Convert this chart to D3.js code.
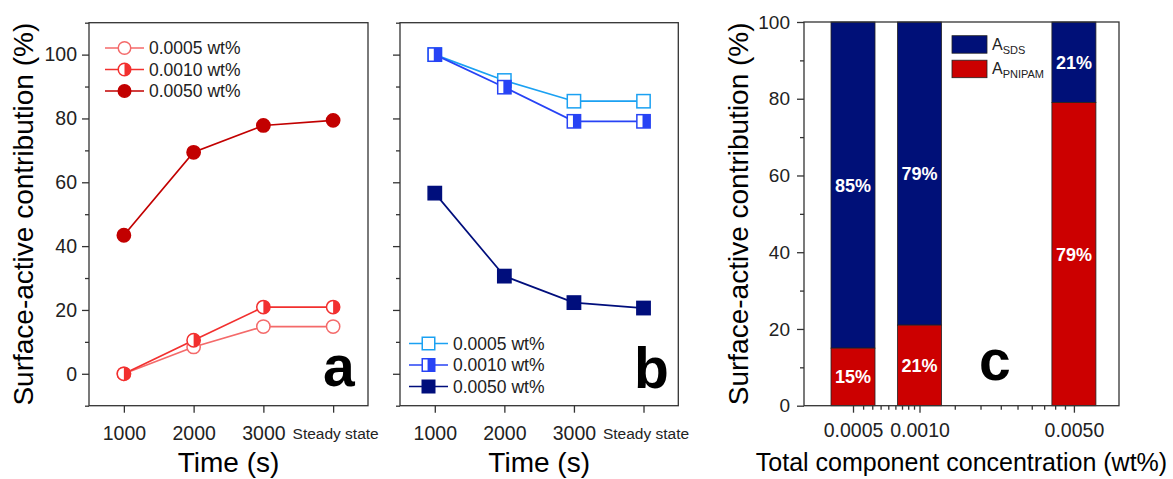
<!DOCTYPE html>
<html><head><meta charset="utf-8">
<script src="https://cdn.jsdelivr.net/npm/d3@7"></script>
<style>body{margin:0;background:#fff;} svg{display:block;} text{font-family:"Liberation Sans",Arial,sans-serif;}</style>
</head><body><svg id="c" width="1173" height="479"></svg>
<script>
// ---------- data ----------
const timeValues = [1000, 2000, 3000, 4000];
const timeLabels = ["1000", "2000", "3000", "Steady state"];
const seriesLabels = ["0.0005 wt%", "0.0010 wt%", "0.0050 wt%"];
const pnipam0005 = [0, 8.4, 14.8, 14.8];
const pnipam0010 = [0, 10.5, 20.9, 20.9];
const pnipam0050 = [43.4, 69.4, 77.8, 79.4];
const sds0005 = [100, 91.9, 85.4, 85.4];
const sds0010 = [100, 89.8, 79.1, 79.1];
const sds0050 = [56.6, 30.6, 22.3, 20.6];
const concentrations = [0.0005, 0.0010, 0.0050];
const concLabels = ["0.0005", "0.0010", "0.0050"];
const aPNIPAM = [15, 21, 79];
const aSDS = [85, 79, 21];
const yTicksLine = [0, 20, 40, 60, 80, 100];
const yTicksBar = [0, 20, 40, 60, 80, 100];

// ---------- setup ----------
const svg = d3.select("#c");
const FRAME = "#333";
const TXT = "#222";
const redCols = ["#F46A6A", "#F2302F", "#C20000"];
const blueCols = ["#1BA1F2", "#2743F5", "#000E7C"];
const barNavy = "#001078", barRed = "#CC0000";

const yLine = d3.scaleLinear().domain([-10, 110]).range([405.7, 22.7]);

function styleAxis(g, fs) {
  g.select(".domain").remove();
  g.selectAll(".tick line").attr("stroke", FRAME).attr("stroke-width", 1.3);
  g.selectAll(".tick text").attr("fill", TXT).style("font-size", fs + "px").style("font-family", '"Liberation Sans",Arial,sans-serif');
}

function linePanel(x0, x1, showYLabels, seriesData, cols, shape, letter, letterX, letterY, legendX, legendY0) {
  const x = d3.scaleLinear().domain([500, 4500]).range([x0, x1]);
  const g = svg.append("g");
  const ya = g.append("g").attr("transform", `translate(${x0},0)`)
    .call(d3.axisLeft(yLine).tickValues(yTicksLine).tickSize(7).tickPadding(5).tickFormat(showYLabels ? d3.format("d") : ""));
  styleAxis(ya, 19.5);
  const yminor = g.append("g").attr("transform", `translate(${x0},0)`)
    .call(d3.axisLeft(yLine).tickValues(d3.range(-10, 111, 20)).tickSize(4).tickFormat(""));
  styleAxis(yminor, 19);
  const xa = g.append("g").attr("transform", `translate(0,${yLine(-10)})`)
    .call(d3.axisBottom(x).tickValues(timeValues).tickSize(7).tickPadding(13).tickFormat((d, i) => timeLabels[i]));
  styleAxis(xa, 19.5);
  xa.selectAll(".tick text").filter((d, i) => i === 3).style("font-size", "15.5px").attr("dy", "0.85em").attr("dx", 2);
  g.append("rect").attr("x", x0).attr("y", yLine(110)).attr("width", x1 - x0).attr("height", yLine(-10) - yLine(110))
    .attr("fill", "none").attr("stroke", FRAME).attr("stroke-width", 1.3);
  g.append("text").attr("x", (x0 + x1) / 2).attr("y", 472).attr("text-anchor", "middle")
    .style("font-size", "28px").attr("fill", "#000").text("Time (s)");
  const line = d3.line().x((d, i) => x(timeValues[i])).y(d => yLine(d));
  seriesData.forEach((vals, si) => {
    g.append("path").attr("d", line(vals)).attr("fill", "none").attr("stroke", cols[si]).attr("stroke-width", 1.7);
  });
  seriesData.forEach((vals, si) => {
    vals.forEach((v, i) => drawMarker(g, x(timeValues[i]), yLine(v), shape, si, cols[si], 7.4));
  });
  seriesLabels.forEach((lab, si) => {
    const ly = legendY0 + si * 21.5;
    g.append("line").attr("x1", legendX).attr("x2", legendX + 39).attr("y1", ly).attr("y2", ly)
      .attr("stroke", cols[si]).attr("stroke-width", 1.7);
    drawMarker(g, legendX + 19.5, ly, shape, si, cols[si], 7);
    g.append("text").attr("x", legendX + 44).attr("y", ly + 6.3).style("font-size", "17.5px").attr("fill", TXT).text(lab);
  });
  g.append("text").attr("x", letterX).attr("y", letterY).style("font-size", "57px").style("font-weight", "bold")
    .attr("fill", "#000").text(letter);
}

function drawMarker(g, cx, cy, shape, kind, col, r) {
  const m = g.append("g").attr("transform", `translate(${cx},${cy})`);
  const sw = 1.5;
  if (shape === "circle") {
    const rr = r - sw / 2;
    if (kind === 2) {
      m.append("circle").attr("r", rr).attr("fill", col).attr("stroke", col).attr("stroke-width", sw);
    } else {
      m.append("circle").attr("r", rr).attr("fill", "#fff").attr("stroke", col).attr("stroke-width", sw);
      if (kind === 1) {
        m.append("path").attr("d", `M0,${-rr} A${rr},${rr} 0 0 1 0,${rr} Z`).attr("fill", col);
      }
    }
  } else {
    const h = r - sw / 2;
    if (kind === 2) {
      m.append("rect").attr("x", -h).attr("y", -h).attr("width", 2 * h).attr("height", 2 * h)
        .attr("fill", col).attr("stroke", col).attr("stroke-width", sw);
    } else {
      m.append("rect").attr("x", -h).attr("y", -h).attr("width", 2 * h).attr("height", 2 * h)
        .attr("fill", "#fff").attr("stroke", col).attr("stroke-width", sw);
      if (kind === 1) {
        m.append("rect").attr("x", -h * 0.15).attr("y", -h).attr("width", h * 1.15).attr("height", 2 * h).attr("fill", col);
      }
    }
  }
}

linePanel(89, 368, true, [pnipam0005, pnipam0010, pnipam0050], redCols, "circle", "a", 323, 386, 105, 48);
linePanel(400, 678.3, false, [sds0005, sds0010, sds0050], blueCols, "square", "b", 634, 388, 409, 343.5);

svg.append("text").attr("transform", `translate(33,${(22.7 + 405.7) / 2}) rotate(-90)`).attr("text-anchor", "middle")
  .style("font-size", "28px").attr("fill", "#000").text("Surface-active contribution (%)");

// ---------- panel c ----------
const xc = d3.scaleLog().domain([0.0003, 0.008]).range([804, 1119]);
const yc = d3.scaleLinear().domain([0, 100]).range([405.7, 22]);
const gc = svg.append("g");
const barW = 44;
concentrations.forEach((c, i) => {
  gc.append("rect").attr("x", xc(c) - barW / 2).attr("y", yc(aPNIPAM[i] + aSDS[i])).attr("width", barW)
    .attr("height", yc(aPNIPAM[i]) - yc(aPNIPAM[i] + aSDS[i])).attr("fill", barNavy).attr("stroke", "#222").attr("stroke-width", 0.8);
  gc.append("rect").attr("x", xc(c) - barW / 2).attr("y", yc(aPNIPAM[i])).attr("width", barW)
    .attr("height", yc(0) - yc(aPNIPAM[i])).attr("fill", barRed).attr("stroke", "#222").attr("stroke-width", 0.8);
  gc.append("text").attr("x", xc(c)).attr("y", yc(aPNIPAM[i] + aSDS[i] / 2) + 6.5).attr("text-anchor", "middle")
    .style("font-size", "18px").style("font-weight", "bold").attr("fill", "#fff").text(aSDS[i] + "%");
  gc.append("text").attr("x", xc(c)).attr("y", yc(aPNIPAM[i] / 2) + 6.5).attr("text-anchor", "middle")
    .style("font-size", "18px").style("font-weight", "bold").attr("fill", "#fff").text(aPNIPAM[i] + "%");
});
const yca = gc.append("g").attr("transform", "translate(804,0)")
  .call(d3.axisLeft(yc).tickValues(yTicksBar).tickSize(7).tickPadding(7).tickFormat(d3.format("d")));
styleAxis(yca, 19);
const ycm = gc.append("g").attr("transform", "translate(804,0)")
  .call(d3.axisLeft(yc).tickValues(d3.range(10, 100, 20)).tickSize(4).tickFormat(""));
styleAxis(ycm, 19);
const xca = gc.append("g").attr("transform", `translate(0,${yc(0)})`)
  .call(d3.axisBottom(xc).tickValues(concentrations).tickSize(7).tickPadding(10).tickFormat((d, i) => concLabels[i]));
styleAxis(xca, 19.5);
const minorC = [];
for (let k = 0; k < concentrations.length - 1; k++) {
  const a = concentrations[k], b = concentrations[k + 1];
  for (let j = 1; j <= 8; j++) minorC.push(a + (b - a) * j / 9);
}
const xcm = gc.append("g").attr("transform", `translate(0,${yc(0)})`)
  .call(d3.axisBottom(xc).tickValues(minorC).tickSize(4).tickFormat(""));
styleAxis(xcm, 19);
gc.append("rect").attr("x", 804).attr("y", 22).attr("width", 1119 - 804).attr("height", yc(0) - 22)
  .attr("fill", "none").attr("stroke", FRAME).attr("stroke-width", 1.3);
gc.append("text").attr("transform", `translate(748,${(22 + 405.7) / 2}) rotate(-90)`).attr("text-anchor", "middle")
  .style("font-size", "28px").attr("fill", "#000").text("Surface-active contribution (%)");
gc.append("text").attr("x", 961.5).attr("y", 471).attr("text-anchor", "middle")
  .style("font-size", "25px").attr("fill", "#000").text("Total component concentration (wt%)");
const legC = [{col: barNavy, main: "A", sub: "SDS"}, {col: barRed, main: "A", sub: "PNIPAM"}];
legC.forEach((d, i) => {
  const ly = 35.7 + i * 24.5;
  gc.append("rect").attr("x", 952).attr("y", ly).attr("width", 35).attr("height", 17.5)
    .attr("fill", d.col).attr("stroke", "#222").attr("stroke-width", 0.8);
  const t = gc.append("text").attr("x", 992).attr("y", ly + 14).style("font-size", "16px").attr("fill", TXT);
  t.append("tspan").text(d.main);
  t.append("tspan").attr("dy", 4).style("font-size", "11px").text(d.sub);
});
gc.append("text").attr("x", 979).attr("y", 380).style("font-size", "57px").style("font-weight", "bold")
  .attr("fill", "#000").text("c");
</script></body></html>
